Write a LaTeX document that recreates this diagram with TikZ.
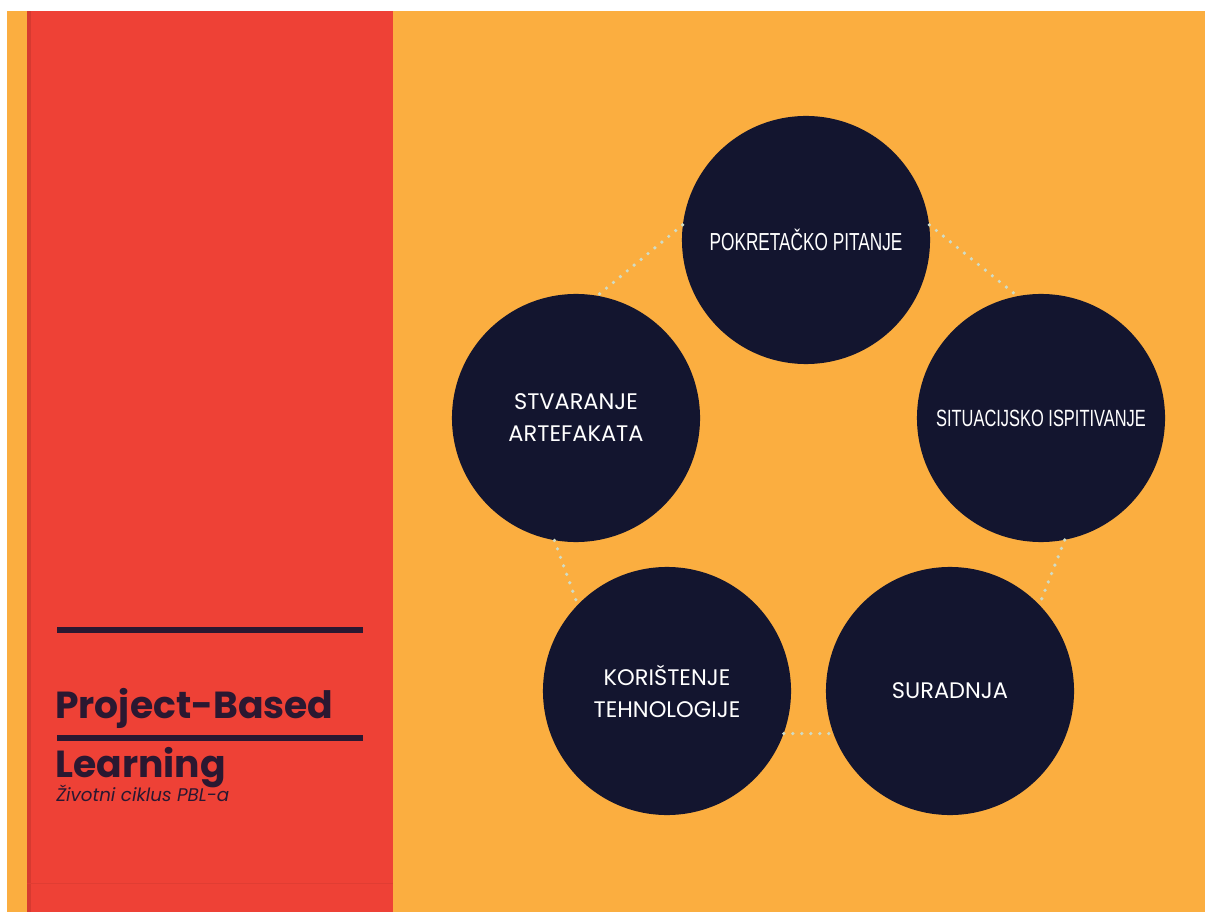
\documentclass[tikz,border=0pt]{standalone}
\usepackage{fontspec}
\setmainfont{Poppins}
\newfontfamily\condfont[FakeStretch=0.7]{Liberation Sans}
\usepackage{xcolor}

\definecolor{pblorange}{HTML}{FBAE40}
\definecolor{pblred}{HTML}{EE4136}
\definecolor{pblnavy}{HTML}{13152F}
\definecolor{pbltitle}{HTML}{2A1831}
\definecolor{pbldots}{HTML}{CFDCC6}

\begin{document}
\begin{tikzpicture}[x=0.025cm,y=-0.025cm,
    phase/.style={circle,fill=pblnavy,minimum size=6.2cm,inner sep=0pt,text=white,align=center},
    cond/.style={font=\condfont\fontsize{17.5}{21}\selectfont},
    geo/.style={font=\fontsize{16}{22.8}\selectfont},
    cycle_link/.style={draw=pbldots,line width=2.6pt,line cap=round,dash pattern=on 0pt off 6.4pt},
    title_rule/.style={draw=pbltitle,line width=4.3pt},
    title_text/.style={anchor=base west,inner sep=0pt,text=pbltitle}]
  \useasboundingbox (0,0) rectangle (1205,912);

  % page background
  \fill[white] (0,0) rectangle (1205,912);
  \fill[pblorange] (7,11) rectangle (1205,912);
  \fill[pblred] (27,11) rectangle (393,912);
  \fill[pblred!90!black] (27,11) rectangle (31,912);
  \draw[pblred!94!black,line width=0.6pt] (27,883) -- (393,883);

  % title block
  \draw[title_rule] (57,630) -- (363,630);
  \node[title_text,font=\bfseries\fontsize{26.8}{26.8}\selectfont] (title_top) at (55,718) {Project-Based};
  \draw[title_rule] (57,738) -- (363,738);
  \node[title_text,font=\bfseries\fontsize{26.8}{26.8}\selectfont] (title_bottom) at (55,777) {Learning};
  \node[title_text,font=\itshape\fontsize{13}{13}\selectfont] (subtitle) at (56,801) {Životni ciklus PBL-a};

  % the five phases
  \node[phase,cond] (driving_q) at (806,240) {POKRETAČKO PITANJE};
  \node[phase,cond,font=\condfont\fontsize{16.7}{20}\selectfont] (sit_inquiry) at (1041,418) {SITUACIJSKO ISPITIVANJE};
  \node[phase,geo] (artefacts) at (576,418) {STVARANJE\\ARTEFAKATA};
  \node[phase,geo] (tech_use) at (667,691) {KORIŠTENJE\\TEHNOLOGIJE};
  \node[phase,geo] (collab) at (950,691) {SURADNJA};

  % dotted cycle
  \draw[cycle_link] (driving_q.7) -- (sit_inquiry.101);
  \draw[cycle_link] (driving_q.173) -- (artefacts.80);
  \draw[cycle_link] (artefacts.260) -- (tech_use.136);
  \draw[cycle_link] (tech_use.-20) -- (collab.200);
  \draw[cycle_link] (sit_inquiry.281) -- (collab.44);
\end{tikzpicture}
\end{document}
